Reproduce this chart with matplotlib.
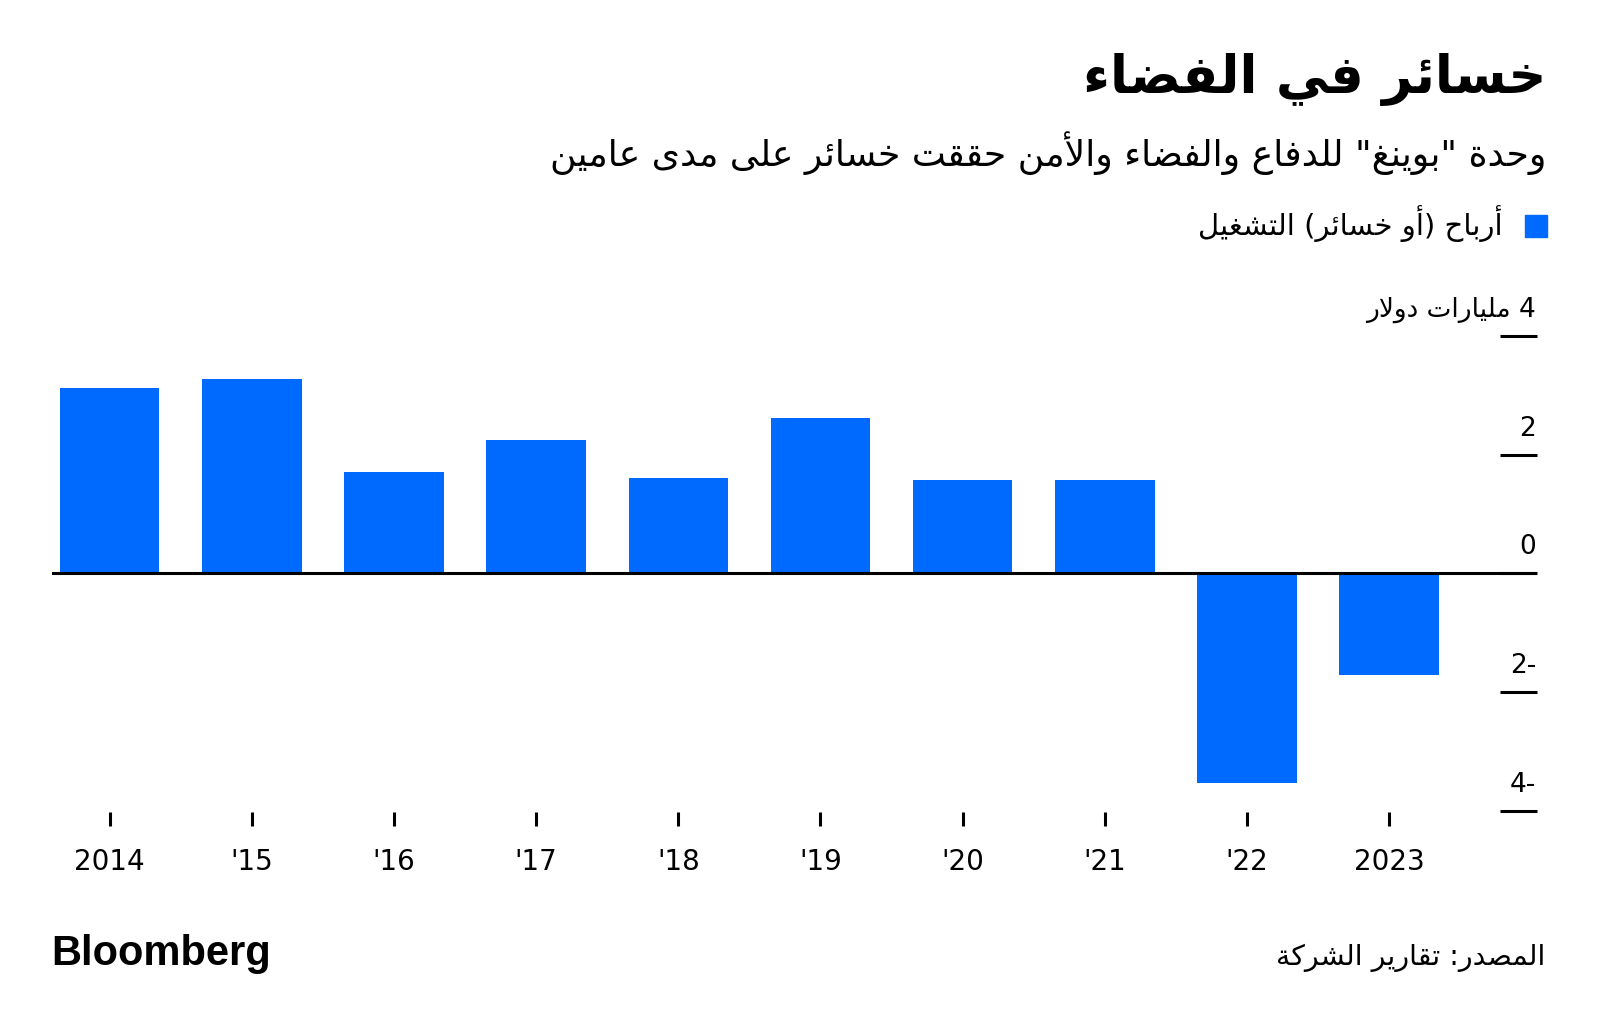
import matplotlib
matplotlib.use("Agg")
import matplotlib.pyplot as plt
import matplotlib.transforms as mtrans

# ---- data ----
years = ["2014", "'15", "'16", "'17", "'18", "'19", "'20", "'21", "'22", "2023"]
profit = [3.13, 3.27, 1.70, 2.24, 1.60, 2.61, 1.58, 1.58, -3.53, -1.72]
yticks = [4, 2, 0, -2, -4]
ytick_labels = ["4 مليارات دولار", "2", "0", "2-", "4-"]

title = "خسائر في الفضاء"
subtitle = 'وحدة "بوينغ" للدفاع والفضاء والأمن حققت خسائر على مدى عامين'
legend_label = "أرباح (أو خسائر) التشغيل"
source = "المصدر: تقارير الشركة"

BLUE = "#006AFF"

# ---- tiny arabic shaper (matplotlib has no text shaping) ----
FORMS = {
    'ء': (0xFE80, 1), 'آ': (0xFE81, 2), 'أ': (0xFE83, 2), 'ؤ': (0xFE85, 2),
    'إ': (0xFE87, 2), 'ئ': (0xFE89, 4), 'ا': (0xFE8D, 2), 'ب': (0xFE8F, 4),
    'ة': (0xFE93, 2), 'ت': (0xFE95, 4), 'ث': (0xFE99, 4), 'ج': (0xFE9D, 4),
    'ح': (0xFEA1, 4), 'خ': (0xFEA5, 4), 'د': (0xFEA9, 2), 'ذ': (0xFEAB, 2),
    'ر': (0xFEAD, 2), 'ز': (0xFEAF, 2), 'س': (0xFEB1, 4), 'ش': (0xFEB5, 4),
    'ص': (0xFEB9, 4), 'ض': (0xFEBD, 4), 'ط': (0xFEC1, 4), 'ظ': (0xFEC5, 4),
    'ع': (0xFEC9, 4), 'غ': (0xFECD, 4), 'ف': (0xFED1, 4), 'ق': (0xFED5, 4),
    'ك': (0xFED9, 4), 'ل': (0xFEDD, 4), 'م': (0xFEE1, 4), 'ن': (0xFEE5, 4),
    'ه': (0xFEE9, 4), 'و': (0xFEED, 2), 'ى': (0xFEEF, 2), 'ي': (0xFEF1, 4),
}
LAMALEF = {'آ': 0xFEF5, 'أ': 0xFEF7, 'إ': 0xFEF9, 'ا': 0xFEFB}
MIRROR = {'(': ')', ')': '('}


def ar(s):
    if not any(c in FORMS for c in s):
        return s
    units = []
    i = 0
    while i < len(s):
        c = s[i]
        if c == 'ل' and i + 1 < len(s) and s[i + 1] in LAMALEF:
            units.append((LAMALEF[s[i + 1]], 2))
            i += 2
        elif c in FORMS:
            units.append(FORMS[c])
            i += 1
        else:
            units.append((c, 0))
            i += 1
    out = []
    for k, (base, n) in enumerate(units):
        if n == 0:
            out.append(MIRROR.get(base, base))
            continue
        prev_j = k > 0 and units[k - 1][1] == 4
        next_j = n == 4 and k + 1 < len(units) and units[k + 1][1] in (2, 4)
        if n == 1:
            f = 0
        elif prev_j and next_j:
            f = 3
        elif prev_j:
            f = 1
        elif next_j:
            f = 2
        else:
            f = 0
        out.append(chr(base + f))
    return ''.join(out[::-1])


plt.rcParams['font.family'] = ['DejaVu Sans']

W, H = 1600, 1032
fig = plt.figure(figsize=(W / 100, H / 100), dpi=100)


def fx(x):
    return x / W


def fy(y):
    return 1 - y / H


# axes: zero line at y=573px, 59.35 px per unit
ax = fig.add_axes([fx(52), fy(811.7), fx(1537) - fx(52), fy(294.4) - fy(811.7)])
x = list(range(len(years)))
ax.bar(x, profit, width=0.7, color=BLUE, zorder=2)
ax.axhline(0, color="black", lw=2.2, zorder=3)
ax.set_xlim(-0.405, 10.04)
ax.set_ylim(-4.017, 4.7)

for s in ax.spines.values():
    s.set_visible(False)

ax.set_xticks(x)
ax.set_xticklabels(years, fontsize=20)
ax.tick_params(axis='x', length=10, width=2.2, color="black", pad=16)

ax.yaxis.tick_right()
ax.set_yticks(yticks)
ax.set_yticklabels([])
ax.tick_params(axis='y', direction='in', length=27, width=2.2, color="black")

lab_tr = ax.get_yaxis_transform() + mtrans.ScaledTranslation(0, 19 / 100, fig.dpi_scale_trans)
for v, lab in zip(yticks, ytick_labels):
    ax.text(0.9995, v, ar(lab), transform=lab_tr, ha='right', va='baseline', fontsize=19)

# header
fig.text(fx(1546), fy(93), ar(title), ha='right', va='baseline', fontsize=38, fontweight='bold')
fig.text(fx(1546), fy(166), ar(subtitle), ha='right', va='baseline', fontsize=26)
fig.patches.append(plt.Rectangle((fx(1525), fy(237)), fx(22), fy(215) - fy(237),
                                 transform=fig.transFigure, color=BLUE, figure=fig))
fig.text(fx(1502), fy(235), ar(legend_label), ha='right', va='baseline', fontsize=21)

# footer
fig.text(fx(51), fy(965), "Bloomberg", ha='left', va='baseline', fontsize=30,
         fontweight='bold', family=['Liberation Sans', 'DejaVu Sans'])
fig.text(fx(1545), fy(965), ar(source), ha='right', va='baseline', fontsize=20.5)

fig.savefig("out.png", dpi=100, facecolor="white")
